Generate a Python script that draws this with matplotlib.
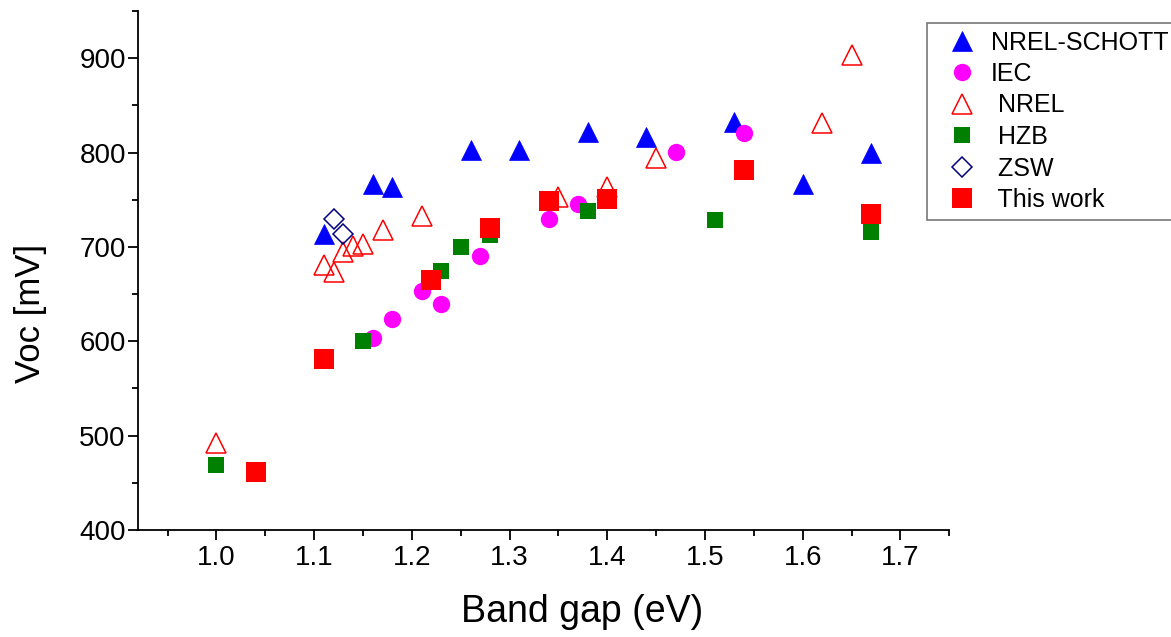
import numpy as np
import matplotlib
matplotlib.use("Agg")
import matplotlib.pyplot as plt
from matplotlib.ticker import MultipleLocator

plt.rcParams['font.family'] = ['Liberation Sans', 'DejaVu Sans']

# NREL-SCHOTT
schott_x = [1.11, 1.16, 1.18, 1.26, 1.31, 1.38, 1.44, 1.53, 1.60, 1.67]
schott_y = [714, 767, 763, 803, 803, 822, 817, 832, 767, 800]
# IEC
iec_x = [1.16, 1.18, 1.21, 1.23, 1.27, 1.34, 1.37, 1.47, 1.54]
iec_y = [603, 624, 653, 640, 690, 730, 746, 801, 821]
# NREL
nrel_x = [1.00, 1.11, 1.12, 1.13, 1.14, 1.15, 1.17, 1.21, 1.35, 1.40, 1.45, 1.62, 1.65]
nrel_y = [492, 681, 673, 695, 701, 703, 718, 733, 753, 764, 794, 831, 903]
# HZB
hzb_x = [1.00, 1.15, 1.23, 1.25, 1.28, 1.38, 1.51, 1.67]
hzb_y = [469, 600, 675, 700, 713, 738, 728, 716]
# ZSW
zsw_x = [1.12, 1.13]
zsw_y = [730, 714]
# This work
tw_x = [1.04, 1.11, 1.22, 1.28, 1.34, 1.40, 1.54, 1.67]
tw_y = [461, 581, 665, 720, 749, 751, 781, 735]

fig = plt.figure(figsize=(11.71, 6.37), dpi=100)
ax = fig.add_axes([0.1181, 0.168, 0.6926, 0.8147])

ax.plot(schott_x, schott_y, ls='none', marker='^', ms=13.8, color='#0000ff', mew=0.5, label='NREL-SCHOTT')
ax.plot(iec_x, iec_y, ls='none', marker='o', ms=12.5, color='#ff00ff', mew=0, label='IEC')
ax.plot(nrel_x, nrel_y, ls='none', marker='^', ms=13.8, mfc='none', mec='#ff0000', mew=1.1, label=' NREL')
ax.plot(hzb_x, hzb_y, ls='none', marker='s', ms=11, color='#008000', mew=0, label=' HZB')
ax.plot(zsw_x, zsw_y, ls='none', marker='D', ms=10, mfc='none', mec='#000080', mew=1.1, label=' ZSW')
ax.plot(tw_x, tw_y, ls='none', marker='s', ms=13.7, color='#ff0000', mew=0, label=' This work')

ax.set_xlim(0.92, 1.75)
ax.set_ylim(400, 950)
ax.xaxis.set_minor_locator(MultipleLocator(0.05))
ax.yaxis.set_minor_locator(MultipleLocator(50))
ax.set_xticks([1.0, 1.1, 1.2, 1.3, 1.4, 1.5, 1.6, 1.7])
ax.set_yticks([400, 500, 600, 700, 800, 900])

for s in ['top', 'right']:
    ax.spines[s].set_visible(False)
for s in ['left', 'bottom']:
    ax.spines[s].set_linewidth(1.3)

ax.tick_params(which='major', direction='out', length=7.5, width=1.3, labelsize=20)
ax.tick_params(axis='y', which='major', pad=1.5)
ax.tick_params(axis='x', which='major', pad=3)
ax.tick_params(which='minor', direction='out', length=4, width=1.3)

ax.set_xlabel('Band gap (eV)', fontsize=27)
ax.set_ylabel('Voc [mV]', fontsize=25)
ax.xaxis.set_label_coords(0.547, -0.158)
ax.yaxis.set_label_coords(-0.1335, 0.418)
ax.xaxis.label.set_va('center')
ax.yaxis.label.set_va('center')

leg = fig.legend(loc='upper left', bbox_to_anchor=(927 / 1171, 1 - 23 / 637),
                 fontsize=18, frameon=True, fancybox=False, handletextpad=0.05,
                 borderpad=0.3, labelspacing=0.3, handlelength=2.2, borderaxespad=0)
leg.get_frame().set_edgecolor('#555555')
leg.get_frame().set_linewidth(1.2)

fig.savefig('out.png', dpi=100)
